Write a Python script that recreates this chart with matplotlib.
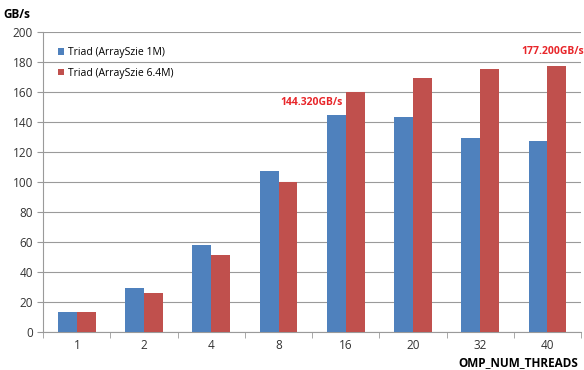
import numpy as np
import matplotlib
matplotlib.use("Agg")
import matplotlib.pyplot as plt

plt.rcParams['font.family'] = ['Open Sans', 'DejaVu Sans']

threads = ["1", "2", "4", "8", "16", "20", "32", "40"]
triad_1m = [13.5, 29, 58, 107.5, 144.32, 143, 129, 127]
triad_64m = [13, 26, 51, 100, 160, 169.5, 175.5, 177.2]

blue = "#4F81BD"
red = "#C0504D"
grid = "#9A9A9A"

fig = plt.figure(figsize=(5.84, 3.70), dpi=100)
ax = fig.add_axes([0.074, 0.103, 0.921, 0.811])

x = np.arange(len(threads))
w = 0.28
ax.bar(x - w / 2, triad_1m, w, color=blue, label="Triad (ArraySzie 1M)", zorder=3)
ax.bar(x + w / 2, triad_64m, w, color=red, label="Triad (ArraySzie 6.4M)", zorder=3)

ax.set_xlim(-0.5, len(threads) - 0.5)
ax.set_ylim(0, 200)
ax.set_yticks(range(0, 201, 20))
ax.yaxis.grid(True, color=grid, linewidth=0.8, zorder=0)
ax.set_xticks(x)
ax.set_xticklabels(threads)
ax.set_xticks(np.arange(-0.5, len(threads)), minor=True)
ax.tick_params(axis='x', which='major', length=0, pad=5, labelsize=8.5, colors='#333333')
ax.tick_params(axis='x', which='minor', length=4, color=grid)
ax.tick_params(axis='y', length=4, color=grid, labelsize=8.5, colors='#333333')

for side in ("top", "right"):
    ax.spines[side].set_visible(False)
for side in ("left", "bottom"):
    ax.spines[side].set_color(grid)

# peak value callouts
ax.text(x[4] - 0.04, triad_1m[4] + 8.5, f"{triad_1m[4]:.3f}GB/s", color="#E8262A",
        fontsize=7.5, fontweight='bold', ha='right', va='center')
ax.text(x[7] + 0.54, triad_64m[7] + 9.5, f"{triad_64m[7]:.3f}GB/s", color="#E8262A",
        fontsize=7.5, fontweight='bold', ha='right', va='center', clip_on=False)

leg = ax.legend(loc='upper left', bbox_to_anchor=(0.01, 0.98), frameon=False,
                fontsize=7.5, handlelength=0.6, handleheight=0.6, handletextpad=0.4,
                labelspacing=0.9)

fig.text(0.005, 0.96, "GB/s", fontsize=8.5, fontweight='bold', ha='left', va='center')
fig.text(0.99, 0.02, "OMP_NUM_THREADS", fontsize=8.5, fontweight='bold', ha='right', va='center')

fig.savefig("out.png", dpi=100)
